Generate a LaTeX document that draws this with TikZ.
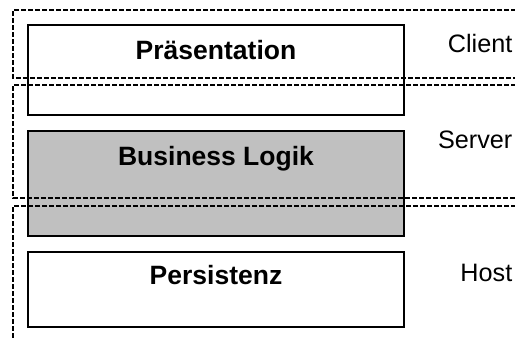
\documentclass[tikz,border=0pt]{standalone}
\usepackage{fontspec}
\setmainfont{Liberation Sans}
\begin{document}
\begin{tikzpicture}[x=1pt,y=-1pt,
  layerbox/.style={draw=black,line width=1.6pt,rectangle,inner sep=0pt},
  layertext/.style={anchor=base,inner sep=0pt,font=\fontsize{26.5}{30}\selectfont\bfseries},
  tiertext/.style={anchor=base east,inner sep=0pt,font=\fontsize{25.2}{30}\selectfont},
  tierline/.style={draw=black,line width=1.1pt,dash pattern=on 5pt off 2pt}]
\useasboundingbox (0,0) rectangle (515,338);
\clip (0,0) rectangle (515,338);
% layer boxes
\node[layerbox,minimum width=376pt,minimum height=90pt] (pres) at (216,70) {};
\node[layerbox,fill={rgb,255:red,192;green,192;blue,192},minimum width=376pt,minimum height=105pt] (biz) at (216,183.5) {};
\node[layerbox,minimum width=376pt,minimum height=75pt] (pers) at (216,289.5) {};
\node[layertext] (prestext) at (216,59.5) {Präsentation};
\node[layertext] (biztext) at (216,165.5) {Business Logik};
\node[layertext] (perstext) at (216,284.5) {Persistenz};
% tier regions
\coordinate (c1) at (530,10); \coordinate (c2) at (13,10);
\coordinate (c3) at (13,78); \coordinate (c4) at (530,78);
\draw[tierline] (c1) -- (c2) -- (c3) -- (c4);
\coordinate (s1) at (530,85); \coordinate (s2) at (13,85);
\coordinate (s3) at (13,198); \coordinate (s4) at (530,198);
\draw[tierline] (s1) -- (s2) -- (s3) -- (s4);
\coordinate (h1) at (530,206); \coordinate (h2) at (13,206);
\coordinate (h3) at (13,350);
\draw[tierline] (h1) -- (h2) -- (h3);
% tier labels
\node[tiertext] (client) at (512.5,52) {Client};
\node[tiertext] (server) at (512.5,148) {Server};
\node[tiertext] (host) at (512.5,281) {Host};
\end{tikzpicture}
\end{document}
